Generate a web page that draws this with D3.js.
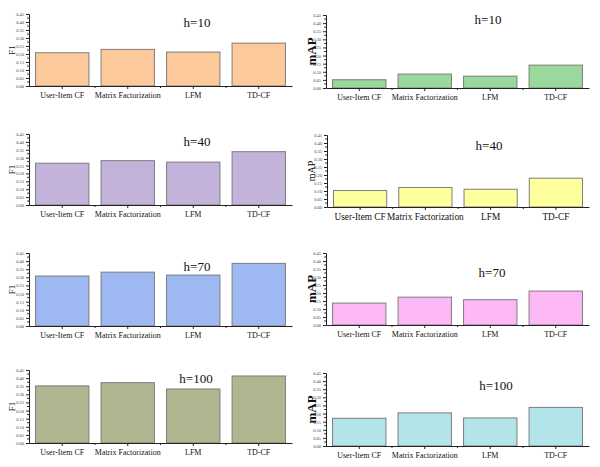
<!DOCTYPE html>
<html><head><meta charset="utf-8">
<script src="https://cdn.jsdelivr.net/npm/d3@7/dist/d3.min.js"></script>
<style>body{margin:0;background:#fff}svg{display:block}text{font-family:"Liberation Serif","Times New Roman",serif}</style>
</head><body>
<script>
const categories = ["User-Item CF", "Matrix Factorization", "LFM", "TD-CF"];
const f1_h10  = [0.208, 0.229, 0.212, 0.268];
const f1_h40  = [0.265, 0.281, 0.272, 0.338];
const f1_h70  = [0.308, 0.332, 0.314, 0.386];
const f1_h100 = [0.352, 0.372, 0.333, 0.413];
const map_h10  = [0.051, 0.086, 0.073, 0.141];
const map_h40  = [0.103, 0.122, 0.111, 0.180];
const map_h70  = [0.137, 0.174, 0.158, 0.212];
const map_h100 = [0.171, 0.204, 0.173, 0.238];
const yTicks = [0, 0.05, 0.10, 0.15, 0.20, 0.25, 0.30, 0.35, 0.40, 0.45];
const titles = ["h=10", "h=40", "h=70", "h=100"];

const W = 600, H = 467;
const svg = d3.select("body").append("svg").attr("width", W).attr("height", H);
const serif = '"Liberation Serif", "Times New Roman", serif';

// layout per panel (style, not data)
const panels = [
  {vals: f1_h10,  title: titles[0], ylab: "F1",  color: "#FBC99A", x0: 29,  x1: 292, top: 14,  bot: 86,  tx: 197, ty: 27,  yl: 9,  ylb: false, xf: 8},
  {vals: map_h10, title: titles[0], ylab: "mAP", color: "#9AD99B", x0: 326, x1: 589, top: 15,  bot: 88,  tx: 488, ty: 24,  yl: 13, ylb: true,  xf: 8},
  {vals: f1_h40,  title: titles[1], ylab: "F1",  color: "#C3B2D9", x0: 29,  x1: 292, top: 134, bot: 205, tx: 197, ty: 146, yl: 9,  ylb: false, xf: 8},
  {vals: map_h40, title: titles[1], ylab: "mAP", color: "#FFFF9E", x0: 327, x1: 589, top: 135, bot: 207, tx: 489, ty: 150, yl: 10, ylb: false, xf: 9.3},
  {vals: f1_h70,  title: titles[2], ylab: "F1",  color: "#9EB9F2", x0: 29,  x1: 292, top: 253, bot: 326, tx: 197, ty: 271, yl: 9,  ylb: false, xf: 8},
  {vals: map_h70, title: titles[2], ylab: "mAP", color: "#FDB8F6", x0: 326, x1: 589, top: 253, bot: 325, tx: 492, ty: 277, yl: 13, ylb: true,  xf: 8},
  {vals: f1_h100, title: titles[3], ylab: "F1",  color: "#B1B690", x0: 29,  x1: 292, top: 370, bot: 443, tx: 196, ty: 383, yl: 9,  ylb: false, xf: 8},
  {vals: map_h100,title: titles[3], ylab: "mAP", color: "#B3E4EA", x0: 326, x1: 589, top: 373, bot: 446, tx: 496, ty: 390, yl: 13, ylb: true,  xf: 8}
];

panels.forEach(p => {
  const g = svg.append("g");
  const x = d3.scaleBand().domain(categories).range([p.x0, p.x1]).paddingInner(0.185).paddingOuter(0.1);
  const y = d3.scaleLinear().domain([0, 0.45]).range([p.bot, p.top]);

  // bars
  g.selectAll("rect.bar").data(p.vals).join("rect")
    .attr("class", "bar")
    .attr("x", (d, i) => x(categories[i]))
    .attr("y", d => y(d))
    .attr("width", x.bandwidth())
    .attr("height", d => y(0) - y(d))
    .attr("fill", p.color)
    .attr("stroke", "#7d7d7d")
    .attr("stroke-width", 1);

  // y axis
  const ya = d3.axisLeft(y).tickValues(yTicks).tickFormat(d3.format(".2f")).tickSize(3).tickPadding(2);
  const yg = g.append("g").attr("transform", `translate(${p.x0},0)`).call(ya)
    .attr("font-family", serif);
  yg.select(".domain").attr("stroke", "#222");
  yg.selectAll(".tick line").attr("stroke", "#222");
  yg.selectAll("text").style("font-family", serif).style("font-size", "4.5px").attr("fill", "#444");
  // minor ticks
  const minor = d3.range(0.025, 0.45, 0.05);
  g.append("g").selectAll("line").data(minor).join("line")
    .attr("x1", p.x0 - 1.8).attr("x2", p.x0)
    .attr("y1", d => y(d)).attr("y2", d => y(d))
    .attr("stroke", "#222");

  // x axis
  const xa = d3.axisBottom(x).tickSize(3).tickSizeOuter(0).tickPadding(3);
  const xg = g.append("g").attr("transform", `translate(0,${p.bot})`).call(xa)
    .attr("font-family", serif);
  xg.select(".domain").attr("stroke", "#222");
  xg.selectAll(".tick line").attr("stroke", "#222");
  xg.selectAll("text").style("font-family", serif).style("font-size", p.xf + "px").attr("fill", "#111");
  // boundary ticks between bands
  const bounds = categories.slice(1).map(c => x(c) - x.step() * x.paddingInner() / 2);
  g.append("g").selectAll("line").data(bounds).join("line")
    .attr("x1", d => d).attr("x2", d => d)
    .attr("y1", p.bot).attr("y2", p.bot + 2)
    .attr("stroke", "#222");

  // title
  g.append("text").attr("x", p.tx).attr("y", p.ty).attr("text-anchor", "middle")
    .style("font-family", serif).style("font-size", "13px").attr("fill", "#111").text(p.title);

  // y label
  const lx = p.x0 < 100 ? 12 : 311;
  g.append("text")
    .attr("transform", `translate(${lx},${(p.top + p.bot) / 2}) rotate(-90)`)
    .attr("text-anchor", "middle").attr("dy", "0.35em")
    .style("font-family", serif).style("font-size", p.yl + "px")
    .style("font-weight", p.ylb ? "bold" : "normal")
    .attr("fill", "#111").text(p.ylab);
});
</script>
</body></html>
